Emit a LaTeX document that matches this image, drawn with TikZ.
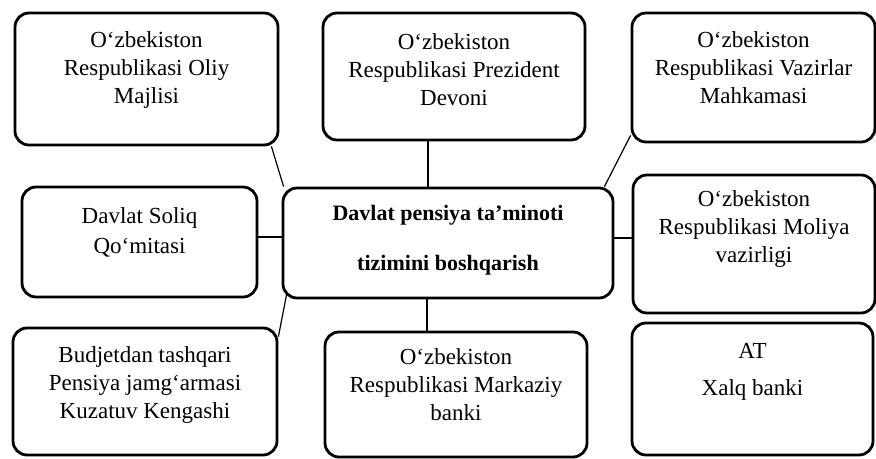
\documentclass[tikz,border=0pt]{standalone}
\usepackage{fontspec}
\setmainfont{Liberation Serif}
\usetikzlibrary{calc}

\begin{document}
\begin{tikzpicture}[x=0.5pt,y=-0.5pt,
    box/.style={draw, line width=1.4pt, rounded corners=7pt, inner sep=0pt},
    txt/.style={align=center, font=\fontsize{11.5}{14}\selectfont},
    link/.style={line width=0.6pt}]
    \useasboundingbox (0,0) rectangle (876,459);

    % Draw the boxes
    \node[box, minimum width=131.5pt, minimum height=66pt] (majlis) at (146.5,79) {};
    \node[box, minimum width=131pt, minimum height=63.5pt] (devon) at (454,76.5) {};
    \node[box, minimum width=121.5pt, minimum height=64.5pt] (vazir) at (753.5,77.5) {};
    \node[box, minimum width=117.5pt, minimum height=55pt] (soliq) at (139.5,242) {};
    \node[box, minimum width=165pt, minimum height=55pt] (markaz) at (448,243) {};
    \node[box, minimum width=121pt, minimum height=69pt] (moliya) at (754,244) {};
    \node[box, minimum width=132pt, minimum height=63.5pt] (budjet) at (145,391.5) {};
    \node[box, minimum width=131pt, minimum height=62.5pt] (mbank) at (456,394.5) {};
    \node[box, minimum width=120.5pt, minimum height=66pt] (xalq) at (752.5,389) {};

    % Label the boxes
    \node[txt] (majlisT) at ([yshift=4.5pt]majlis.center) {O‘zbekiston\\Respublikasi Oliy\\Majlisi};
    \node[txt] (devonT) at ([yshift=3.25pt]devon.center) {O‘zbekiston\\Respublikasi Prezident\\Devoni};
    \node[txt] (vazirT) at ([yshift=4.75pt]vazir.center) {O‘zbekiston\\Respublikasi Vazirlar\\Mahkamasi};
    \node[txt] (soliqT) at ([yshift=5pt]soliq.center) {Davlat Soliq\\[1pt]Qo‘mitasi};
    \node[txt, font=\fontsize{11}{13.5}\selectfont\bfseries] (markazT) at ([yshift=1.5pt]markaz.center) {Davlat pensiya ta’minoti\\[11.5pt]tizimini boshqarish};
    \node[txt] (moliyaT) at ([yshift=7.5pt]moliya.center) {O‘zbekiston\\Respublikasi Moliya\\vazirligi};
    \node[txt] (budjetT) at ([yshift=3.25pt]budjet.center) {Budjetdan tashqari\\Pensiya jamg‘armasi\\Kuzatuv Kengashi};
    \node[txt] (mbankT) at ([yshift=4.75pt]mbank.center) {O‘zbekiston\\Respublikasi Markaziy\\banki};
    \node[txt] (xalqT) at ([yshift=8.75pt]xalq.center) {AT\\[4.5pt]Xalq banki};

    % Connect the boxes to the centre
    \coordinate (top) at ([xshift=-10pt]markaz.north);
    \coordinate (bot) at ([xshift=-10.5pt]markaz.south);
    \draw[link] (top) -- (top |- devon.south);
    \draw[link] (bot) -- (bot |- mbank.north);
    \draw[link] ([xshift=-4pt]majlis.south east) -- ([xshift=1pt]markaz.north west);
    \draw[link] ([yshift=4pt]vazir.south west) -- ([xshift=-5pt]markaz.north east);
    \draw[link] ([yshift=-5pt]budjet.north east) -- ([xshift=2.5pt,yshift=2.5pt]markaz.south west);
    \draw[link] ([yshift=2.5pt]soliq.east) -- ([yshift=2.5pt]soliq.east -| markaz.west);
    \draw[link] ([yshift=2.5pt]markaz.east) -- ([yshift=2.5pt]markaz.east -| moliya.west);
\end{tikzpicture}
\end{document}
